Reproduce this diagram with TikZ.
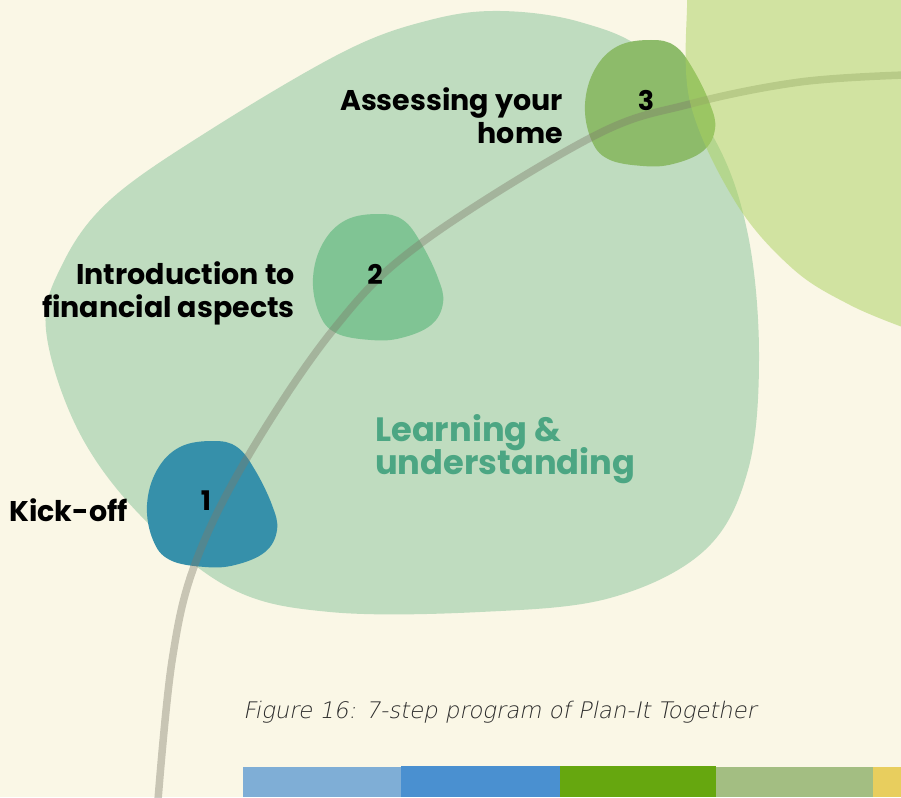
\documentclass[tikz,border=0pt]{standalone}
\usepackage{fontspec}
\setmainfont{Poppins}
\newfontfamily\capfont{DejaVu Sans ExtraLight}[FakeSlant=0.2]
\definecolor{bgcream}{HTML}{FAF7E6}
\definecolor{biggreen}{HTML}{BFDCBF}
\definecolor{yblob}{HTML}{AAD15E}
\definecolor{teal1}{HTML}{3690AA}
\definecolor{green2}{HTML}{80C494}
\definecolor{green3}{HTML}{8DBB6A}
\definecolor{pathcol}{HTML}{7D7A69}
\definecolor{learncol}{HTML}{4CA683}
\definecolor{capcol}{HTML}{2A2A2A}
\definecolor{barA}{HTML}{7FAED6}
\definecolor{barB}{HTML}{4A90D0}
\definecolor{barC}{HTML}{66A70F}
\definecolor{barD}{HTML}{A3BE82}
\definecolor{barE}{HTML}{E8CE5E}
\tikzset{
  blobshape/.pic={\fill[pic actions] plot[smooth cycle, tension=0.65] coordinates
    {(33,6) (66,0) (90,6) (108,29) (125,64) (130,89) (118,111) (88,124) (58,126) (23,119) (6,99) (0,64) (10,29)};},
  lbl/.style={font=\fontsize{28.5}{33.5}\selectfont\bfseries, text=black, inner sep=0pt, align=right},
  num/.style={font=\fontsize{27}{30}\selectfont\bfseries, text=black, inner sep=0pt},
}
\begin{document}
\begin{tikzpicture}[x=1pt,y=-1pt]
\fill[bgcream] (0,0) rectangle (901,797);
\useasboundingbox (0,0) rectangle (901,797);
% big green blob
\fill[biggreen] plot[smooth cycle, tension=0.6] coordinates
  {(46,330) (62,265) (110,200) (210,130) (345,51) (430,20) (500,11) (580,22) (650,55) (715,140) (748,235) (759,356) (748,470) (705,550) (610,598) (480,612) (330,612) (230,588) (140,515) (78,430)};
% small blobs
\pic[fill=teal1] at (147,441) {blobshape};
\pic[fill=green2] at (313,214) {blobshape};
\pic[fill=green3] at (585,40) {blobshape};
% path line
\draw[pathcol, line width=7.5pt, opacity=0.4] plot[smooth, tension=0.6] coordinates
  {(158,800) (172,661) (195,564) (247,458) (333,330) (420,244) (592,137) (690,104) (800,82) (905,75)};
% yellow-green blob on top
\fill[yblob, opacity=0.5] plot[smooth, tension=0.6] coordinates
  {(686,-5) (687,0) (690,102) (736,203) (793,269) (850,305) (905,328)} -- (905,-5) -- cycle;
% labels
\node[num] (n1) at (206,501) {1};
\node[num] (n2) at (375,274) {2};
\node[num] (n3) at (646,100) {3};
\node[lbl, anchor=base east] (l1) at (128,521) {Kick-off};
\node[lbl, anchor=north east] (l2) at (295,261) {Introduction to\\financial aspects};
\node[lbl, anchor=north east] (l3) at (563,87) {Assessing your\\home};
\node[font=\fontsize{33.7}{30.5}\selectfont\bfseries, text=learncol, inner sep=0pt, align=left, anchor=north west] (learn) at (375,414) {Learning \&\\[-4pt]understanding};
\node[font=\capfont\fontsize{22.8}{26}\selectfont, text=capcol, inner sep=0pt, anchor=west] (cap) at (243,712) {Figure 16: 7-step program of Plan-It Together};
% bottom bar
\fill[barA] (243,767) rectangle (401,797);
\fill[barB] (401,766) rectangle (560,797);
\fill[barC] (560,766) rectangle (716,797);
\fill[barD] (716,767) rectangle (873,797);
\fill[barE] (873,767) rectangle (901,797);
\end{tikzpicture}
\end{document}
